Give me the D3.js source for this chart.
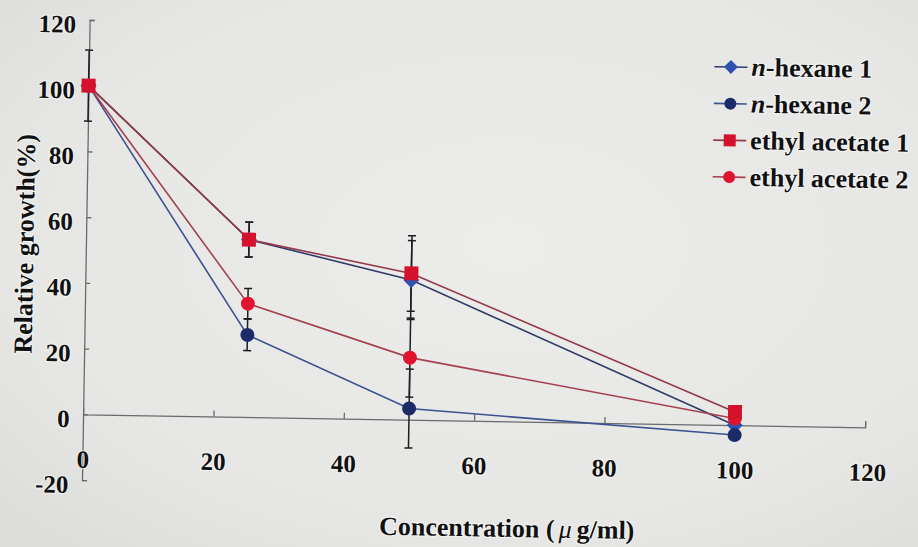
<!DOCTYPE html>
<html>
<head>
<meta charset="utf-8">
<script src="https://cdn.jsdelivr.net/npm/d3@7"></script>
<style>
  html, body { margin: 0; padding: 0; background: #e6e7e5; }
  svg { display: block; }
  text { font-family: "Liberation Serif", "Times New Roman", serif; font-weight: bold; fill: #111; }
  .halo { paint-order: stroke; stroke: #fff; stroke-width: 2.2px; stroke-opacity: 0.55; stroke-linejoin: round; }
</style>
</head>
<body>
<script>
// Concentrations (µg/ml) and relative growth (%) for each extract
const concentrations = [0, 25, 50, 100];
const nHexane1 = [100, 54, 42.5, 0];
const nHexane2 = [100, 25, 3.4, -3];
const ethylAcetate1 = [100, 54, 44.5, 4];
const ethylAcetate2 = [100, 34.5, 18.9, 2];

// Standard deviations
const nHexane1Err = [10.8, 5.3, 12, 1];
const nHexane2Err = [1, 4.8, 12, 1];
const ethylAcetate1Err = [1, 5.3, 11.5, 1];
const ethylAcetate2Err = [1, 4.6, 12, 1];

const seriesNames = ["n-hexane 1", "n-hexane 2", "ethyl acetate 1", "ethyl acetate 2"];
const xTicks = [0, 20, 40, 60, 80, 100, 120];
const yTicks = [-20, 0, 20, 40, 60, 80, 100, 120];

const W = 918, H = 547;
const svg = d3.select("body").append("svg").attr("width", W).attr("height", H);

// paper background
const defs = svg.append("defs");
const grad = defs.append("radialGradient").attr("id", "paper").attr("cx", "55%").attr("cy", "45%").attr("r", "75%");
grad.append("stop").attr("offset", "0%").attr("stop-color", "#ecedeb");
grad.append("stop").attr("offset", "70%").attr("stop-color", "#e6e7e5");
grad.append("stop").attr("offset", "100%").attr("stop-color", "#dcdddb");
svg.append("rect").attr("width", W).attr("height", H).attr("fill", "url(#paper)");

// the printed figure sits slightly turned on the page
const g = svg.append("g").attr("transform", "rotate(0.95 459 273)");

const x = d3.scaleLinear().domain([0, 120]).range([85.5, 867.6]);
const y = d3.scaleLinear().domain([-20, 120]).range([486.3, 26.1]);

const axisColor = "#6a6a6a";

// y axis: ticks point into the plot
const yAxis = g.append("g").attr("transform", `translate(${x(0)},0)`)
  .call(d3.axisLeft(y).tickValues(yTicks).tickSize(-5).tickPadding(13.5).tickFormat(d => String(d)));
yAxis.select(".domain").attr("stroke", axisColor).attr("stroke-width", 1.3);
yAxis.selectAll(".tick line").attr("stroke", axisColor).attr("stroke-width", 1.3);
yAxis.selectAll(".tick text").attr("class", "halo").attr("dy", "0.5em")
  .style("font-size", "25px").style("font-family", "Liberation Serif, serif").style("font-weight", "bold").attr("fill", "#111");

// x axis crosses at 0, ticks pointing up
const xAxis = g.append("g").attr("transform", `translate(0,${y(0)})`)
  .call(d3.axisBottom(x).tickValues(xTicks).tickSize(-6).tickFormat(""));
xAxis.select(".domain").attr("stroke", axisColor).attr("stroke-width", 1.3);
xAxis.selectAll(".tick line").attr("stroke", axisColor).attr("stroke-width", 1.3);
xAxis.selectAll(".tick").filter(d => d === 0).select("line").remove();

// x tick labels in the low position
g.append("g").selectAll("text").data(xTicks).join("text")
  .attr("class", "halo")
  .attr("x", d => x(d) + (d === 120 ? 3 : 0.5))
  .attr("y", 474)
  .attr("text-anchor", "middle")
  .style("font-size", "25px")
  .text(d => d);

// axis titles
g.append("text").attr("class", "halo")
  .attr("transform", "translate(33,251) rotate(-90)")
  .attr("text-anchor", "middle")
  .style("font-size", "26px")
  .text("Relative growth(%)");

const xt = g.append("text").attr("class", "halo")
  .attr("x", 511).attr("y", 536)
  .attr("text-anchor", "middle")
  .style("font-size", "26px");
xt.append("tspan").text("Concentration (");
xt.append("tspan").attr("dx", 4).style("font-style", "italic").style("font-weight", "normal").text("μ");
xt.append("tspan").attr("dx", 5).text("g/ml)");

// series definitions
const series = [
  { name: seriesNames[0], values: nHexane1, err: nHexane1Err, line: "#2e3b68", fill: "#2f52b0", shape: "diamond" },
  { name: seriesNames[1], values: nHexane2, err: nHexane2Err, line: "#3d5190", fill: "#1b2b68", shape: "circle" },
  { name: seriesNames[3], values: ethylAcetate2, err: ethylAcetate2Err, line: "#a5404f", fill: "#e0142f", shape: "circle" },
  { name: seriesNames[2], values: ethylAcetate1, err: ethylAcetate1Err, line: "#96394a", fill: "#d5122d", shape: "square" }
];

const line = d3.line().x((d, i) => x(concentrations[i])).y(d => y(d));

g.append("g").selectAll("path").data(series).join("path")
  .attr("d", s => line(s.values))
  .attr("fill", "none")
  .attr("stroke", s => s.line)
  .attr("stroke-width", 1.6);

// error bars
const eb = g.append("g").attr("stroke", "#1e1e1e").attr("stroke-width", 1.5);
series.forEach(s => {
  s.values.forEach((v, i) => {
    const cx = x(concentrations[i]);
    const top = y(v + s.err[i]), bot = y(v - s.err[i]);
    eb.append("line").attr("x1", cx).attr("x2", cx).attr("y1", top).attr("y2", bot);
    eb.append("line").attr("x1", cx - 4).attr("x2", cx + 4).attr("y1", top).attr("y2", top);
    eb.append("line").attr("x1", cx - 4).attr("x2", cx + 4).attr("y1", bot).attr("y2", bot);
  });
});

function drawMarker(sel, shape, cx, cy, size, fill) {
  if (shape === "circle") {
    sel.append("circle").attr("cx", cx).attr("cy", cy).attr("r", size / 2).attr("fill", fill);
  } else if (shape === "square") {
    sel.append("rect").attr("x", cx - size / 2).attr("y", cy - size / 2)
      .attr("width", size).attr("height", size).attr("fill", fill);
  } else {
    const h = size / 2 + 1;
    sel.append("path").attr("d", `M${cx},${cy - h}L${cx + h},${cy}L${cx},${cy + h}L${cx - h},${cy}Z`).attr("fill", fill);
  }
}

const marks = g.append("g");
series.forEach(s => {
  s.values.forEach((v, i) => drawMarker(marks, s.shape, x(concentrations[i]), y(v), 14, s.fill));
});

// legend
const legendOrder = [series[0], series[1], series[3], series[2]];
const leg = g.append("g");
legendOrder.forEach((s, i) => {
  const ry = 62.5 + i * 36.7;
  leg.append("line").attr("x1", 711).attr("x2", 744).attr("y1", ry).attr("y2", ry)
    .attr("stroke", s.line).attr("stroke-width", 1.6);
  drawMarker(leg, s.shape, 727.5, ry, 12, s.fill);
  const t = leg.append("text").attr("class", "halo").attr("x", 748).attr("y", ry + 8.5).style("font-size", "26px");
  if (s.name.startsWith("n-")) {
    t.append("tspan").style("font-style", "italic").text("n");
    t.append("tspan").text(s.name.slice(1));
  } else {
    t.text(s.name);
  }
});
</script>
</body>
</html>
